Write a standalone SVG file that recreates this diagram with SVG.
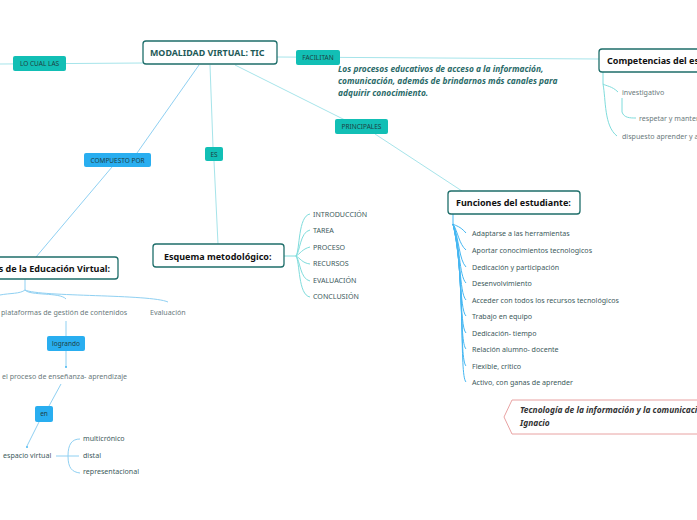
<svg xmlns="http://www.w3.org/2000/svg" width="697" height="520" viewBox="0 0 697 520">
<style>
.node{fill:#fff;stroke:#1e6e6a;stroke-width:1.3}
.title{font-family:"Noto Sans","Open Sans",sans-serif;font-weight:bold;font-size:9px;fill:#111}
.main{font-family:"Noto Sans","Open Sans",sans-serif;font-weight:bold;font-size:8.9px;fill:#1e5a58}
.lt{fill:#12bfb5}
.lb{fill:#29aef0}
.lbl{font-family:"Noto Sans","Open Sans",sans-serif;font-size:6.5px;fill:#1d3f44}
.item{font-family:"Noto Sans","Open Sans",sans-serif;font-size:7.1px;fill:#3d5a5c}
.gray{font-family:"Noto Sans","Open Sans",sans-serif;font-size:7.1px;fill:#6a7a7c}
.note{font-family:"Noto Sans","Open Sans",sans-serif;font-weight:bold;font-style:italic;font-size:8.4px;fill:#2a6a68}
.c{fill:none;stroke:#a6e4ea;stroke-width:1}
.cb{fill:none;stroke:#8fd0f2;stroke-width:1}
.ct{fill:none;stroke:#7fdcdc;stroke-width:1}
.cbb{fill:none;stroke:#45b7f2;stroke-width:1}
</style>
<rect width="697" height="520" fill="#fff"/>
<g id="connectors">
<path class="c" d="M0 64 L143 63"/>
<path class="c" d="M277 57 L599 59"/>
<path class="c" d="M235 65 L345 120"/>
<path class="c" d="M375 134 L462 191"/>
<path class="c" d="M210 65 L213 147 M214 161 L218 244"/>
<path class="cb" d="M199 65 L137 153 M112 167 L36 257"/>
<path class="ct" d="M284 256 L296 256"/>
<path class="ct" d="M296 256 C300 250 298 216 310 214 M296 256 C300 252 300 232 310 230 M296 256 C300 254 302 249 310 247 M296 256 C300 258 302 263 310 264 M296 256 C300 260 300 279 310 281 M296 256 C300 262 298 295 310 297"/>
<path class="cbb" stroke-width="2" d="M453 214 L453 225"/>
<g class="cbb">
<path d="M453 224 C456 226 460 226 466 233"/>
<path d="M453 224 C458 232 459 244 466 250"/>
<path d="M453 224 C459 238 459 260 466 267"/>
<path d="M453 224 C460 244 459 276 466 283"/>
<path d="M453 224 C461 250 459 293 466 300"/>
<path d="M453 224 C462 256 459 309 466 316"/>
<path d="M453 224 C463 262 459 326 466 333"/>
<path d="M453 224 C464 268 459 342 466 349"/>
<path d="M453 224 C465 274 459 359 466 366"/>
<path d="M453 224 C466 280 459 375 466 382"/>
</g>
<path class="ct" d="M603 72 L603 84 C606 86 612 86 618 92 M603 84 C606 100 604 126 617 136 M622 98 L622 112 C624 118 630 118 636 118"/>
<path class="cb" stroke-width="1.5" d="M25 279 L25 290"/>
<path class="cb" d="M25 290 C20 294 10 293 0 295 M25 290 C30 296 60 292 66 299 M25 290 C40 297 150 294 168 302"/>
<path class="cb" d="M66 321 L66 336 M66 351 L66 367"/>
<circle cx="66" cy="367" r="1" fill="#45b7f2"/>
<path class="cb" d="M61 384 L49 406 M39 422 L27 446"/>
<circle cx="27" cy="447" r="1" fill="#45b7f2"/>
<path class="cb" d="M56 456 L68 456 M80 439 C72 439 68 444 68 456 C68 468 72 472 80 473 M68 456 L79 456"/>
</g>
<g id="main">
<rect class="node" x="143" y="41" width="134" height="23" rx="3"/>
<text class="main" x="150" y="56">MODALIDAD VIRTUAL: TIC</text>
</g>
<g id="lo-cual-las">
<rect class="lt" x="13" y="56" width="53" height="15" rx="2"/>
<text class="lbl" x="39.5" y="66" text-anchor="middle">LO CUAL LAS</text>
</g>
<g id="facilitan">
<rect class="lt" x="296" y="50" width="44" height="15" rx="2"/>
<text class="lbl" x="318" y="60" text-anchor="middle">FACILITAN</text>
</g>
<g id="note">
<text class="note" x="338" y="72">Los procesos educativos de acceso a la información,</text>
<text class="note" x="338" y="84">comunicación, además de brindarnos más canales para</text>
<text class="note" x="338" y="96">adquirir conocimiento.</text>
</g>
<g id="principales">
<rect class="lt" x="335" y="119" width="53" height="15" rx="2"/>
<text class="lbl" x="361.5" y="129" text-anchor="middle">PRINCIPALES</text>
</g>
<g id="competencias">
<rect class="node" x="599" y="49" width="110" height="23" rx="3"/>
<text class="title" x="607" y="64">Competencias del estudiante:</text>
<text class="gray" x="622" y="95">investigativo</text>
<text class="gray" x="639" y="121">respetar y mantener</text>
<text class="gray" x="622" y="139">dispuesto aprender y ayudar</text>
</g>
<g id="compuesto-por">
<rect class="lb" x="84" y="153" width="67" height="14" rx="2"/>
<text class="lbl" x="117.5" y="163" text-anchor="middle">COMPUESTO POR</text>
</g>
<g id="es">
<rect class="lt" x="205" y="147" width="18" height="14" rx="2"/>
<text class="lbl" x="214" y="157" text-anchor="middle">ES</text>
</g>
<g id="funciones">
<rect class="node" x="448" y="191" width="132" height="23" rx="3"/>
<text class="title" x="456" y="206">Funciones del estudiante:</text>
<text class="item" x="472" y="236">Adaptarse a las herramientas</text>
<text class="item" x="472" y="253">Aportar conocimientos tecnologicos</text>
<text class="item" x="472" y="270">Dedicación y participación</text>
<text class="item" x="472" y="286">Desenvolvimiento</text>
<text class="item" x="472" y="303">Acceder con todos los recursos tecnológicos</text>
<text class="item" x="472" y="319">Trabajo en equipo</text>
<text class="item" x="472" y="336">Dedicación- tiempo</text>
<text class="item" x="472" y="352">Relación alumno- docente</text>
<text class="item" x="472" y="369">Flexible, critico</text>
<text class="item" x="472" y="385">Activo, con ganas de aprender</text>
</g>
<g id="esquema">
<rect class="node" x="153" y="244" width="131" height="23" rx="3"/>
<text class="title" x="164" y="260">Esquema metodológico:</text>
<text class="item" x="313" y="217">INTRODUCCIÓN</text>
<text class="item" x="313" y="233">TAREA</text>
<text class="item" x="313" y="250">PROCESO</text>
<text class="item" x="313" y="266">RECURSOS</text>
<text class="item" x="313" y="283">EVALUACIÓN</text>
<text class="item" x="313" y="299">CONCLUSIÓN</text>
</g>
<g id="educacion-virtual">
<rect class="node" x="-80" y="257" width="198" height="22" rx="3"/>
<text class="title" x="110" y="272" text-anchor="end">Características de la Educación Virtual:</text>
<text class="gray" x="1" y="315">plataformas de gestión de contenidos</text>
<text class="gray" x="150" y="315">Evaluación</text>
</g>
<g id="logrando">
<rect class="lb" x="47" y="336" width="38" height="15" rx="2"/>
<text class="lbl" x="66" y="346" text-anchor="middle">logrando</text>
</g>
<g id="proceso">
<text class="gray" x="2" y="379">el proceso de enseñanza- aprendizaje</text>
</g>
<g id="en">
<rect class="lb" x="35" y="406" width="18" height="16" rx="2"/>
<text class="lbl" x="44" y="416" text-anchor="middle">en</text>
</g>
<g id="espacio-virtual">
<text class="item" x="3" y="458">espacio virtual</text>
<text class="item" x="83" y="441">multicrónico</text>
<text class="item" x="83" y="458">distal</text>
<text class="item" x="83" y="474">representacional</text>
</g>
<g id="tecnologia">
<path d="M512 400 L720 400 L720 434 L512 434 L504 417 Z" fill="#fff" stroke="#e8a2a2" stroke-width="1"/>
<text class="note" style="fill:#333" x="520" y="413">Tecnología de la información y la comunicación</text>
<text class="note" style="fill:#333" x="520" y="426">Ignacio</text>
</g>
</svg>
